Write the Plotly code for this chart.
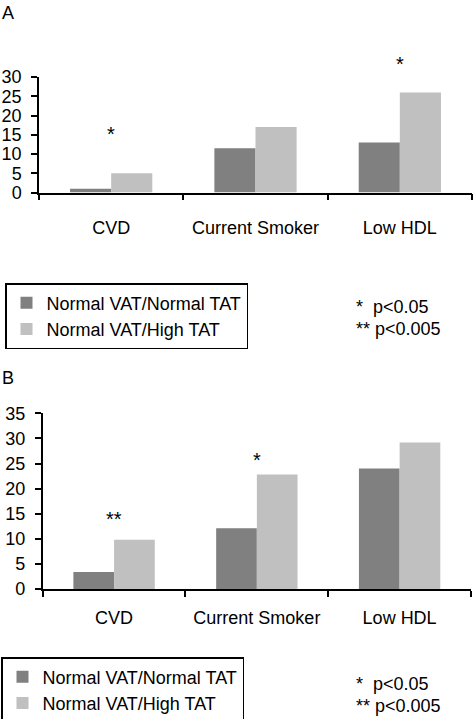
import plotly.graph_objects as go

categories = ["CVD", "Current Smoker", "Low HDL"]
series_names = ["Normal VAT/Normal TAT", "Normal VAT/High TAT"]

# Panel A values
a_normal = [1.0, 11.5, 13.0]
a_high = [5.0, 17.0, 26.0]
a_stars = ["*", "", "*"]
a_star_y = [15.8, None, 34.0]

# Panel B values
b_normal = [3.4, 12.1, 24.0]
b_high = [9.8, 22.8, 29.2]
b_stars = ["**", "*", ""]
b_star_y = [14.4, 26.0, None]

a_ymax, b_ymax = 30, 35
p_notes = ["*\u00a0\u00a0p<0.05", "**\u00a0p<0.005"]

DARK = "#808080"
LIGHT = "#c0c0c0"
FONT = "Liberation Sans, Arial, sans-serif"

W, H = 475, 719

fig = go.Figure()
fig.add_trace(go.Bar(x=categories, y=a_normal, name=series_names[0], marker_color=DARK,
                     marker_line_width=0, xaxis="x", yaxis="y", legend="legend"))
fig.add_trace(go.Bar(x=categories, y=a_high, name=series_names[1], marker_color=LIGHT,
                     marker_line_width=0, xaxis="x", yaxis="y", legend="legend"))
fig.add_trace(go.Bar(x=categories, y=b_normal, name=series_names[0], marker_color=DARK,
                     marker_line_width=0, xaxis="x2", yaxis="y2", legend="legend2"))
fig.add_trace(go.Bar(x=categories, y=b_high, name=series_names[1], marker_color=LIGHT,
                     marker_line_width=0, xaxis="x2", yaxis="y2", legend="legend2"))


def px_x(p):
    return p / W


def px_y(p):
    return 1 - p / H


a_dom = [px_y(192.5), px_y(77)]
b_dom = [px_y(589), px_y(413.3)]

xax = dict(showline=True, linecolor="black", linewidth=1.5, ticks="outside",
           tickson="boundaries", ticklen=6, tickcolor="black", tickwidth=1.5,
           showgrid=False, zeroline=False, tickfont=dict(size=18, color="black"),
           fixedrange=True)
yax = dict(showline=True, linecolor="black", linewidth=1.5, ticks="outside",
           ticklen=6, tickcolor="black", tickwidth=1.5, showgrid=False,
           zeroline=False, dtick=5, tickfont=dict(size=18, color="black"),
           fixedrange=True)

fig.update_layout(
    width=W, height=H,
    margin=dict(l=0, r=0, t=0, b=0, autoexpand=False),
    paper_bgcolor="white", plot_bgcolor="white",
    font=dict(family=FONT, size=18, color="black"),
    barmode="group", bargap=0.43, bargroupgap=0,
    xaxis=dict(xax, domain=[px_x(39), px_x(472)], anchor="y", ticklabelstandoff=18),
    yaxis=dict(yax, domain=a_dom, anchor="x", range=[0, a_ymax], ticklabelstandoff=6),
    xaxis2=dict(xax, domain=[px_x(42.7), px_x(471)], anchor="y2", ticklabelstandoff=12),
    yaxis2=dict(yax, domain=b_dom, anchor="x2", range=[0, b_ymax], ticklabelstandoff=6),
    legend=dict(x=px_x(5), y=px_y(283), xanchor="left", yanchor="top",
                bordercolor="black", borderwidth=1.5, bgcolor="white",
                font=dict(size=18), traceorder="normal", tracegroupgap=0),
    legend2=dict(x=px_x(1), y=px_y(657), xanchor="left", yanchor="top",
                 bordercolor="black", borderwidth=1.5, bgcolor="white",
                 font=dict(size=18), traceorder="normal", tracegroupgap=0),
    showlegend=True,
)

annotations = []


def star_paper_y(v, ymax, dom):
    return dom[0] + (v / ymax) * (dom[1] - dom[0])


# significance stars
for cat, s, v in zip(categories, a_stars, a_star_y):
    if s:
        annotations.append(dict(x=cat, y=star_paper_y(v, a_ymax, a_dom), xref="x", yref="paper",
                                text=s, showarrow=False, font=dict(size=20),
                                yanchor="middle", yshift=-2))
for cat, s, v in zip(categories, b_stars, b_star_y):
    if s:
        annotations.append(dict(x=cat, y=star_paper_y(v, b_ymax, b_dom), xref="x2", yref="paper",
                                text=s, showarrow=False, font=dict(size=20),
                                yanchor="middle", yshift=-2))

# panel letters
annotations.append(dict(x=0, y=1, xref="paper", yref="paper", text="A", showarrow=False,
                        xanchor="left", yanchor="top", font=dict(size=18), yshift=-1))
annotations.append(dict(x=0, y=px_y(366), xref="paper", yref="paper", text="B", showarrow=False,
                        xanchor="left", yanchor="top", font=dict(size=18)))

# p-value notes
for i, t in enumerate(p_notes):
    annotations.append(dict(x=px_x(354), y=px_y(307 + 22 * i), xref="paper", yref="paper",
                            text=t, showarrow=False, xanchor="left", yanchor="middle",
                            font=dict(size=18)))
    annotations.append(dict(x=px_x(354), y=px_y(684 + 22 * i), xref="paper", yref="paper",
                            text=t, showarrow=False, xanchor="left", yanchor="middle",
                            font=dict(size=18)))

fig.update_layout(annotations=annotations)

fig.write_html("out.html", config={"displayModeBar": False},
               post_script="document.body.style.margin='0';document.body.style.overflow='hidden';")
